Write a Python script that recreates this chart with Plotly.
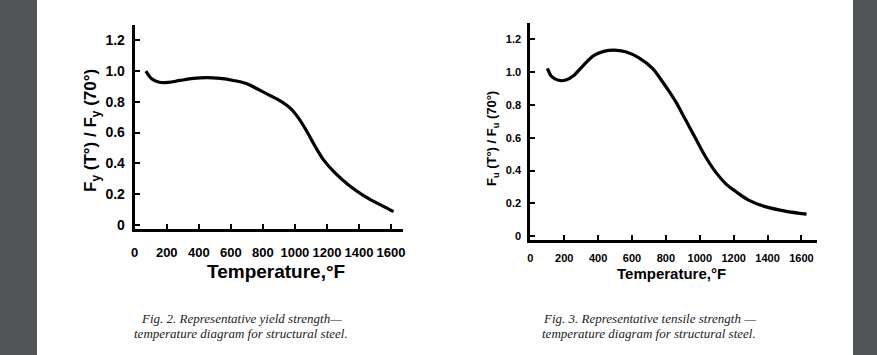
import plotly.graph_objects as go

# ---- data ----
yield_temp = [70, 106, 148, 210, 283, 366, 450, 533, 616, 700, 783, 846, 898, 971,
              1023, 1075, 1127, 1179, 1252, 1335, 1439, 1544, 1616]
yield_ratio = [1.0, 0.95, 0.929, 0.926, 0.939, 0.952, 0.957, 0.952, 0.939, 0.918, 0.874,
               0.840, 0.813, 0.759, 0.694, 0.607, 0.509, 0.422, 0.335, 0.259, 0.183,
               0.124, 0.085]

tensile_temp = [101, 127, 166, 206, 255, 315, 374, 433, 493, 562, 641, 721, 780, 829,
                858, 917, 975, 1034, 1092, 1151, 1210, 1288, 1386, 1503, 1630]
tensile_ratio = [1.022, 0.971, 0.949, 0.949, 0.977, 1.042, 1.099, 1.125, 1.133, 1.123,
                 1.086, 1.022, 0.940, 0.866, 0.819, 0.707, 0.596, 0.484, 0.393, 0.322,
                 0.274, 0.220, 0.180, 0.153, 0.135]

x_tick_vals = [0, 200, 400, 600, 800, 1000, 1200, 1400, 1600]
x_tick_text = ["0", "200", "400", "600", "800", "1000", "1200", "1400", "1600"]
y_tick_vals = [0, 0.2, 0.4, 0.6, 0.8, 1.0, 1.2]
y_tick_text = ["0", "0.2", "0.4", "0.6", "0.8", "1.0", "1.2"]

caption1 = ["Fig. 2. Representative yield strength—",
            "temperature diagram for structural steel."]
caption2 = ["Fig. 3. Representative tensile strength —",
            "temperature diagram for structural steel."]

W, H = 877, 355
SANS = "Liberation Sans, Arial, Helvetica, sans-serif"
SERIF = "Liberation Serif, Times New Roman, serif"


def px(x):
    return x / W


def py(y):
    return (H - y) / H


fig = go.Figure()
fig.add_trace(go.Scatter(x=yield_temp, y=yield_ratio, mode="lines",
                         line=dict(color="black", width=3.2, shape="spline", smoothing=1.0),
                         xaxis="x", yaxis="y", showlegend=False, hoverinfo="skip"))
fig.add_trace(go.Scatter(x=tensile_temp, y=tensile_ratio, mode="lines",
                         line=dict(color="black", width=3.2, shape="spline", smoothing=1.0),
                         xaxis="x2", yaxis="y2", showlegend=False, hoverinfo="skip"))

common = dict(showgrid=False, zeroline=False, showline=True, linecolor="black",
              linewidth=3, ticks="inside", tickcolor="black", tickwidth=1.5, ticklen=5,
              fixedrange=True, tickangle=0, automargin=False)

fig.update_layout(
    width=W, height=H,
    autosize=False,
    margin=dict(l=0, r=0, t=0, b=0, pad=0),
    paper_bgcolor="#525659",
    plot_bgcolor="rgba(0,0,0,0)",
    xaxis=dict(**common, domain=[px(134.7), px(403)], range=[0, 1675], anchor="y",
               tickvals=x_tick_vals, ticktext=x_tick_text, ticklabelstandoff=9,
               tickfont=dict(family=SANS, size=13, color="black", weight="bold")),
    yaxis=dict(**common, domain=[py(229.3), py(25)], range=[-0.03, 1.30], anchor="x",
               tickvals=y_tick_vals, ticktext=y_tick_text, ticklabelstandoff=4,
               tickfont=dict(family=SANS, size=14, color="black", weight="bold")),
    xaxis2=dict(**common, domain=[px(530.3), px(816.7)], range=[0, 1690], anchor="y2",
                tickvals=x_tick_vals, ticktext=x_tick_text, ticklabelstandoff=6,
                tickfont=dict(family=SANS, size=11, color="black", weight="bold")),
    yaxis2=dict(**common, domain=[py(240), py(23.3)], range=[-0.023, 1.296], anchor="x2",
                tickvals=y_tick_vals, ticktext=y_tick_text, ticklabelstandoff=4,
                tickfont=dict(family=SANS, size=11, color="black", weight="bold")),
    shapes=[dict(type="rect", xref="paper", yref="paper", x0=px(37), x1=px(853),
                 y0=0, y1=1, fillcolor="white", line=dict(width=0), layer="below")],
)

ann = []
# axis titles
ann.append(dict(text="Temperature,°F", x=px(276), y=py(271), xref="paper", yref="paper",
                showarrow=False, xanchor="center", yanchor="middle",
                font=dict(family=SANS, size=19, color="black", weight="bold")))
ann.append(dict(text="F<sub>y</sub> (T°) / F<sub>y</sub> (70°)", x=px(92), y=py(131),
                xref="paper", yref="paper", showarrow=False, textangle=-90,
                xanchor="center", yanchor="middle",
                font=dict(family=SANS, size=17, color="black", weight="bold")))
ann.append(dict(text="Temperature,°F", x=px(671), y=py(273), xref="paper", yref="paper",
                showarrow=False, xanchor="center", yanchor="middle",
                font=dict(family=SANS, size=15, color="black", weight="bold")))
ann.append(dict(text="F<sub>u</sub> (T°) / F<sub>u</sub> (70°)", x=px(492), y=py(139),
                xref="paper", yref="paper", showarrow=False, textangle=-90,
                xanchor="center", yanchor="middle",
                font=dict(family=SANS, size=13, color="black", weight="bold")))
# captions
for cx, lines in ((241, caption1), (649, caption2)):
    for i, line in enumerate(lines):
        ann.append(dict(text=line, x=px(cx), y=py(318 + 15 * i), xref="paper", yref="paper",
                        showarrow=False, xanchor="center", yanchor="middle",
                        font=dict(family=SERIF, size=13, color="#222222", style="italic")))
fig.update_layout(annotations=ann)

fig.write_html(
    "out.html",
    config={"responsive": False, "displayModeBar": False},
    post_script="document.body.style.margin='0';document.body.style.overflow='hidden';"
                "document.documentElement.style.overflow='hidden';",
)
